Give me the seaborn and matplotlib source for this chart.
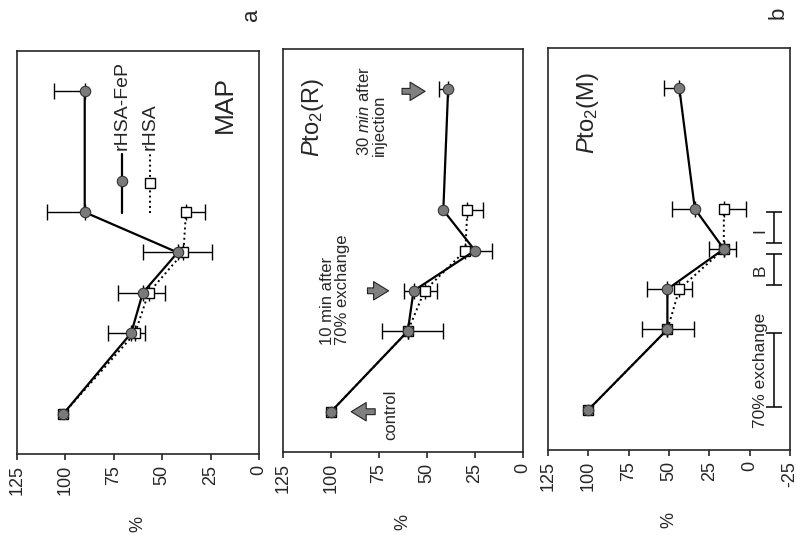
import numpy as np
import pandas as pd
import matplotlib
matplotlib.use("Agg")
import matplotlib.pyplot as plt
import seaborn as sns

# time points (min) shared by all panels
time_pts = [10, 30, 40, 50, 60, 90]

# MAP (%)
map_fep = [101, 66, 60, 42, 90, 90]
map_fep_err = [0, 12, 13, 18, 19.5, 16]
map_rhsa = [101, 64, 57, 39, 37.7]
map_rhsa_err = [0, 5, 8.5, 15, 10]

# PtO2(R) (%)
pr_fep = [100, 60, 57, 25, 41.5, 39]
pr_fep_err = [0, 13.6, 5, 0, 0, 5]
pr_rhsa = [100, 60, 51.3, 30, 29]
pr_rhsa_err = [0, 18.5, 6.7, 14, 8]

# PtO2(M) (%)
pm_fep = [100, 51, 51, 16, 34, 43.6]
pm_fep_err = [0, 16, 12.6, 9.5, 14, 9.4]
pm_rhsa = [100, 51, 43.6, 16, 16]
pm_rhsa_err = [0, 16.5, 7.6, 7.5, 14]

ticks_a = [125, 100, 75, 50, 25, 0]
ticks_b = [125, 100, 75, 50, 25, 0, -25]

sns.set_style("ticks")
plt.rcParams['font.family'] = ['Liberation Sans', 'DejaVu Sans']
plt.rcParams['mathtext.fontset'] = 'custom'
plt.rcParams['mathtext.rm'] = 'Liberation Sans'
plt.rcParams['mathtext.it'] = 'Liberation Sans:italic'
plt.rcParams['axes.linewidth'] = 1.2

FEP_FACE = '#7a7a7a'


def draw_panel(ax, fep, fep_err, rhsa, rhsa_err, ticks):
    t_f = np.array(time_pts[:len(fep)])
    t_r = np.array(time_pts[:len(rhsa)])
    fep = np.array(fep, float)
    rhsa = np.array(rhsa, float)
    fe = np.array(fep_err, float)
    re = np.array(rhsa_err, float)

    # one-sided error bars: rHSA-FeP toward higher %, rHSA toward lower %
    m = fe > 0
    ax.errorbar(fep[m], t_f[m], xerr=[np.zeros(m.sum()), fe[m]], fmt='none',
                ecolor='k', elinewidth=1.0, capsize=6, capthick=1.0, zorder=2)
    m = re > 0
    ax.errorbar(rhsa[m], t_r[m], xerr=[re[m], np.zeros(m.sum())], fmt='none',
                ecolor='k', elinewidth=1.0, capsize=6, capthick=1.0, zorder=2)

    df_r = pd.DataFrame({'value': rhsa, 'time': t_r})
    df_f = pd.DataFrame({'value': fep, 'time': t_f})
    sns.lineplot(data=df_r, x='value', y='time', sort=False, estimator=None,
                 color='k', lw=1.4, ls=':', marker='s', ms=7, mfc='white',
                 mec='k', mew=1.0, ax=ax, zorder=3)
    sns.lineplot(data=df_f, x='value', y='time', sort=False, estimator=None,
                 color='k', lw=1.6, marker='o', ms=7.5, mfc=FEP_FACE,
                 mec='#333333', mew=0.8, ax=ax, zorder=4)

    ax.set_xlim(ticks[0], ticks[-1])
    ax.set_ylim(0, 100)
    ax.set_xticks(ticks)
    ax.set_xticklabels([str(v) for v in ticks], rotation=90, fontsize=13)
    ax.tick_params(axis='x', length=4, width=1.2, pad=4)
    ax.tick_params(axis='y', left=False, labelleft=False)
    ax.set_ylabel('')
    ax.set_xlabel('%', rotation=90, fontsize=13, labelpad=15)
    for sp in ax.spines.values():
        sp.set_visible(True)
        sp.set_linewidth(1.2)


fig = plt.figure(figsize=(7.97, 5.35), dpi=100)
ax1 = fig.add_axes([0.0213, 0.1514, 0.3036, 0.7533])
ax2 = fig.add_axes([0.3551, 0.1551, 0.3011, 0.7533])
ax3 = fig.add_axes([0.6876, 0.1589, 0.3036, 0.7514])

draw_panel(ax1, map_fep, map_fep_err, map_rhsa, map_rhsa_err, ticks_a)
draw_panel(ax2, pr_fep, pr_fep_err, pr_rhsa, pr_rhsa_err, ticks_a)
draw_panel(ax3, pm_fep, pm_fep_err, pm_rhsa, pm_rhsa_err, ticks_b)

# panel titles
ax1.text(0.86, 0.868, 'MAP', transform=ax1.transAxes, rotation=90,
         ha='center', va='center', fontsize=19)
ax2.text(0.125, 0.83, r'$\mathit{P}\mathrm{to}_2\mathrm{(R)}$', transform=ax2.transAxes,
         rotation=90, ha='center', va='center', fontsize=17)
ax3.text(0.165, 0.838, r'$\mathit{P}\mathrm{to}_2\mathrm{(M)}$', transform=ax3.transAxes,
         rotation=90, ha='center', va='center', fontsize=17)

# legend drawn vertically in panel a
ax1.plot([0.434, 0.434], [0.598, 0.745], transform=ax1.transAxes, color='k', lw=1.6)
ax1.plot([0.434], [0.677], transform=ax1.transAxes, marker='o', ms=7.5,
         mfc=FEP_FACE, mec='#333333', mew=0.8)
ax1.text(0.434, 0.755, 'rHSA-FeP', transform=ax1.transAxes, rotation=90,
         ha='center', va='bottom', fontsize=14)
ax1.plot([0.55, 0.55], [0.598, 0.745], transform=ax1.transAxes, color='k', lw=1.4, ls=':')
ax1.plot([0.55], [0.672], transform=ax1.transAxes, marker='s', ms=7,
         mfc='white', mec='k', mew=1.0)
ax1.text(0.55, 0.755, 'rHSA', transform=ax1.transAxes, rotation=90,
         ha='center', va='bottom', fontsize=14)

# annotations in panel Pto2(R)
arrow_kw = dict(arrowstyle='simple,head_length=0.9,head_width=1.1,tail_width=0.35',
                fc='#808080', ec='#222222', lw=0.8, shrinkA=0, shrinkB=0,
                mutation_scale=12)
ax2.annotate('', xy=(89.5, 10), xytext=(77, 10), arrowprops=arrow_kw)
ax2.text(69, 3, 'control', rotation=90, ha='center', va='bottom', fontsize=12)
ax2.annotate('', xy=(70, 40), xytext=(81, 40), arrowprops=arrow_kw)
ax2.text(98, 26.5, '10 min after\n70% exchange', rotation=90, ha='center',
         va='bottom', fontsize=12, multialignment='left', linespacing=1.0)
ax2.annotate('', xy=(51, 89.5), xytext=(63, 89.5), arrowprops=arrow_kw)
ax2.text(79, 73.5, '30 $\\mathit{min}$ after\ninjection', rotation=90, ha='center',
         va='bottom', fontsize=12, multialignment='left', linespacing=1.0)

# protocol bars in panel Pto2(M)
bar_x = -15.2
for lo, hi in [(10.8, 29.1), (41, 48.8), (51.5, 59.2)]:
    ax3.errorbar([bar_x], [(lo + hi) / 2], yerr=[[(hi - lo) / 2]], fmt='none',
                 ecolor='k', elinewidth=1.1, capsize=6, capthick=1.1)
ax3.text(-6.5, 19.7, '70% exchange', rotation=90, ha='center', va='center', fontsize=12.5)
ax3.text(-6.5, 44.8, 'B', rotation=90, ha='center', va='center', fontsize=12.5)
ax3.text(-6.5, 54.7, 'I', rotation=90, ha='center', va='center', fontsize=12.5)

fig.text(0.316, 0.972, 'a', rotation=90, ha='center', va='center', fontsize=16)
fig.text(0.976, 0.976, 'b', rotation=90, ha='center', va='center', fontsize=16)

fig.savefig('out.png', dpi=100)
